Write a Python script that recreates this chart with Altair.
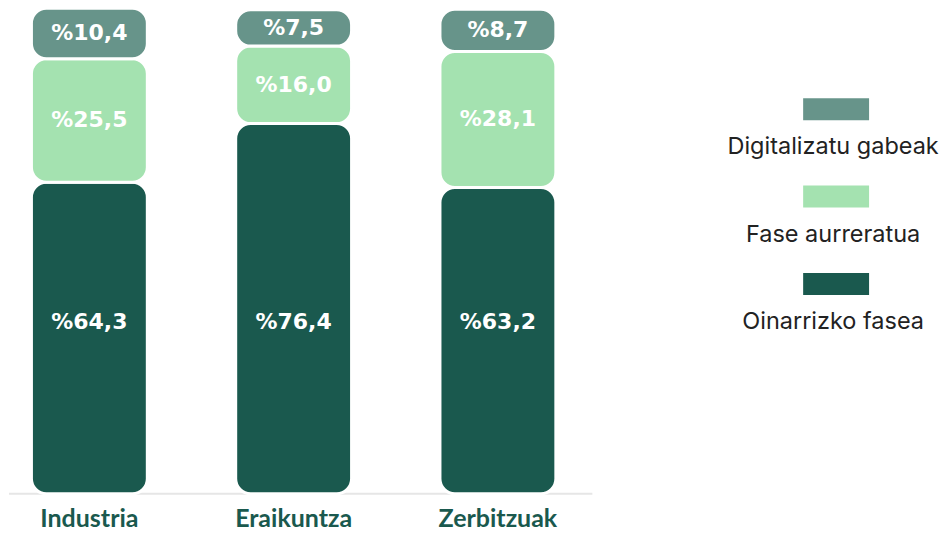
import altair as alt
import pandas as pd

categories = ["Industria", "Eraikuntza", "Zerbitzuak"]
series = ["Oinarrizko fasea", "Fase aurreratua", "Digitalizatu gabeak"]
oinarrizko = [64.3, 76.4, 63.2]
aurreratua = [25.5, 16.0, 28.1]
gabeak = [10.4, 7.5, 8.7]
labels = {
    "Oinarrizko fasea": ["%64,3", "%76,4", "%63,2"],
    "Fase aurreratua": ["%25,5", "%16,0", "%28,1"],
    "Digitalizatu gabeak": ["%10,4", "%7,5", "%8,7"],
}
colors = ["#1a594e", "#a4e2b0", "#67948a"]
legend_order = ["Digitalizatu gabeak", "Fase aurreratua", "Oinarrizko fasea"]

rows = []
for s_i, (s, vals) in enumerate(zip(series, [oinarrizko, aurreratua, gabeak])):
    for c_i, c in enumerate(categories):
        rows.append({"cat": c, "series": s, "value": vals[c_i], "order": s_i, "label": labels[s][c_i]})
df = pd.DataFrame(rows)

color_scale = alt.Scale(domain=series, range=colors)

base = alt.Chart(df).transform_stack(
    stack="value", groupby=["cat"], as_=["v0", "v1"], sort=[alt.SortField("order", "ascending")]
).transform_calculate(
    mid="datum.series === 'Oinarrizko fasea' ? 35.5 : (datum.v0 + datum.v1) / 2"
)

xenc = alt.X(
    "cat:N",
    sort=categories,
    title=None,
    scale=alt.Scale(paddingInner=0.213, paddingOuter=0.0345, align=0),
    axis=alt.Axis(
        domain=False, ticks=False, labelAngle=0, labelFont="Lato", labelFontWeight="bold",
        labelFontSize=25, labelColor="#1a594e", labelPadding=13,
    ),
)
yscale = alt.Scale(domain=[0, 100], nice=False)

baseline = alt.Chart(pd.DataFrame({"z": [0]})).mark_rule(color="#e6e6e6", strokeWidth=2).encode(
    y=alt.Y("z:Q", scale=yscale, axis=None)
)

bars = base.mark_bar(width=116, cornerRadius=15, stroke="white", strokeWidth=3).encode(
    x=xenc,
    y=alt.Y("v0:Q", scale=yscale, axis=None),
    y2="v1:Q",
    color=alt.Color("series:N", scale=color_scale, legend=None),
)

texts = base.mark_text(
    font="DejaVu Sans", fontWeight="bold", fontSize=22, color="white", baseline="middle"
).encode(
    x=xenc,
    y=alt.Y("mid:Q", scale=yscale, axis=None),
    text="label:N",
)

main = alt.layer(baseline, bars, texts).properties(width=584, height=485)

leg_df = pd.DataFrame({"series": legend_order})
lyscale = alt.Scale(type="point", domain=legend_order, range=[100, 275], padding=0)
leg_sym = alt.Chart(leg_df).mark_point(
    shape="M-1,-0.3333H1V0.3333H-1Z", filled=True, opacity=1, size=66 * 66, strokeWidth=0
).encode(
    x=alt.value(243),
    y=alt.Y("series:N", scale=lyscale, axis=None),
    color=alt.Color("series:N", scale=color_scale, legend=None),
)
leg_txt = alt.Chart(leg_df).mark_text(
    font="Inter", fontSize=23.5, color="#222222", dy=38, baseline="middle"
).encode(
    x=alt.value(240),
    y=alt.Y("series:N", scale=lyscale, axis=None),
    text="series:N",
)
legend = alt.layer(leg_sym, leg_txt).properties(width=340, height=371)

chart = alt.hconcat(main, legend, spacing=0).properties(
    padding={"left": 0, "top": -2, "right": 0, "bottom": 0}
).configure_view(stroke=None)

chart.save("out.html", embed_options={"renderer": "svg", "actions": False})
